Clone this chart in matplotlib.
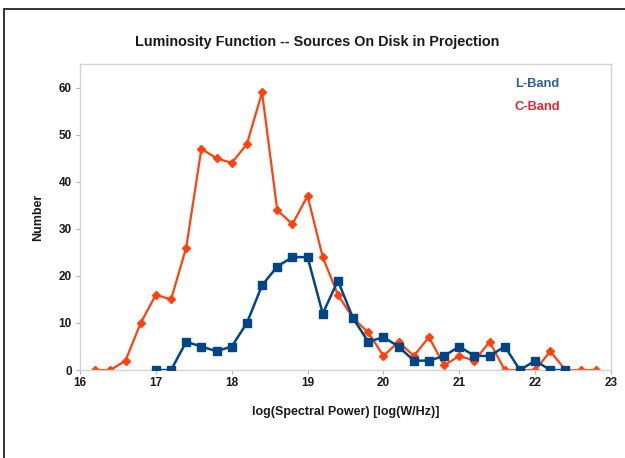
import numpy as np
import matplotlib
matplotlib.use("Agg")
import matplotlib.pyplot as plt
from matplotlib.patches import Rectangle

plt.rcParams['font.family'] = ['Liberation Sans', 'DejaVu Sans']

# C-Band: log power bins 16.2 .. 22.8
c_x = [16.2, 16.4, 16.6, 16.8, 17.0, 17.2, 17.4, 17.6, 17.8, 18.0, 18.2, 18.4,
       18.6, 18.8, 19.0, 19.2, 19.4, 19.6, 19.8, 20.0, 20.2, 20.4, 20.6, 20.8,
       21.0, 21.2, 21.4, 21.6, 21.8, 22.0, 22.2, 22.4, 22.6, 22.8]
c_n = [0, 0, 2, 10, 16, 15, 26, 47, 45, 44, 48, 59,
       34, 31, 37, 24, 16, 11, 8, 3, 6, 3, 7, 1,
       3, 2, 6, 0, 0, 0, 4, 0, 0, 0]

# L-Band: 17.0 .. 22.4
l_x = [17.0, 17.2, 17.4, 17.6, 17.8, 18.0, 18.2, 18.4, 18.6, 18.8, 19.0, 19.2,
       19.4, 19.6, 19.8, 20.0, 20.2, 20.4, 20.6, 20.8, 21.0, 21.2, 21.4, 21.6,
       21.8, 22.0, 22.2, 22.4]
l_n = [0, 0, 6, 5, 4, 5, 10, 18, 22, 24, 24, 12,
       19, 11, 6, 7, 5, 2, 2, 3, 5, 3, 3, 5,
       0, 2, 0, 0]

x_ticks = [16, 17, 18, 19, 20, 21, 22, 23]
y_ticks = [0, 10, 20, 30, 40, 50, 60]

fig = plt.figure(figsize=(6.25, 4.58), dpi=100)
ax = fig.add_axes([0.128, 0.192, 0.8496, 0.668])

ax.plot(c_x, c_n, color='#ff420e', lw=1.6, marker='D', ms=4, zorder=2)
ax.plot(l_x, l_n, color='#004586', lw=1.8, marker='s', ms=5.5, zorder=3)

ax.set_xlim(16, 23)
ax.set_ylim(0, 65)
ax.set_xticks(x_ticks)
ax.set_yticks(y_ticks)
ax.tick_params(axis='both', colors='#b3b3b3', length=3, width=0.8, labelsize=8.5,
               labelcolor='#1a1a1a', pad=3)
ax.tick_params(axis='x', pad=2)
for lbl in ax.get_xticklabels() + ax.get_yticklabels():
    lbl.set_fontweight('bold')
for side in ax.spines.values():
    side.set_color('#d3d3d3')
    side.set_linewidth(1.0)

ax.set_xlabel('log(Spectral Power) [log(W/Hz)]', fontsize=9, fontweight='bold',
              color='#1a1a1a', labelpad=12)
ax.set_ylabel('Number', fontsize=9, fontweight='bold', color='#1a1a1a', labelpad=10)

fig.text(0.508, 0.908, 'Luminosity Function -- Sources On Disk in Projection',
         ha='center', va='center', fontsize=10.4, fontweight='bold', color='#1a1a1a')

ax.text(0.861, 0.935, 'L-Band', transform=ax.transAxes, ha='center', va='center',
        fontsize=9.3, fontweight='bold', color='#2a6099')
ax.text(0.861, 0.859, 'C-Band', transform=ax.transAxes, ha='center', va='center',
        fontsize=9.3, fontweight='bold', color='#e3262e')

# outer frame, cut by the image edge on right and bottom
fig.patches.append(Rectangle((4 / 625, -0.2), 1.5, (458 - 9) / 458 + 0.2,
                             transform=fig.transFigure, fill=False,
                             edgecolor='#333333', linewidth=1.4))

fig.savefig('out.png', dpi=100)
